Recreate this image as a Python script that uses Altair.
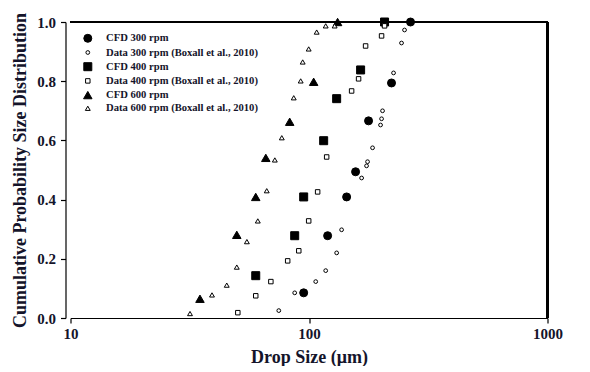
import altair as alt
import pandas as pd

# ---- data ----
series_order = [
    "CFD 300 rpm",
    "Data 300 rpm (Boxall et al., 2010)",
    "CFD 400 rpm",
    "Data 400 rpm (Boxall et al., 2010)",
    "CFD 600 rpm",
    "Data 600 rpm (Boxall et al., 2010)",
]

cfd300_x = [95.0, 119.7, 143.8, 156.8, 177.7, 221.8, 266.5]
cfd300_y = [0.085, 0.278, 0.409, 0.494, 0.666, 0.794, 1.0]

dat300_x = [74.7, 87.1, 106.7, 117.5, 130.6, 137.0, 166.2, 174.3, 176.0, 184.7,
            199.5, 201.5, 203.4, 226.2, 244.3, 251.5]
dat300_y = [0.025, 0.085, 0.123, 0.160, 0.220, 0.298, 0.473, 0.514, 0.528, 0.575,
            0.652, 0.673, 0.700, 0.828, 0.929, 0.973]

cfd400_x = [59.8, 87.1, 95.0, 115.2, 130.6, 164.6, 207.4]
cfd400_y = [0.143, 0.278, 0.409, 0.599, 0.741, 0.838, 1.0]

dat400_x = [50.3, 59.8, 69.2, 81.4, 90.6, 99.7, 108.7, 118.6, 150.9, 161.4,
            172.7, 201.5, 207.4]
dat400_y = [0.018, 0.075, 0.123, 0.193, 0.227, 0.328, 0.426, 0.544, 0.767, 0.808,
            0.919, 0.953, 0.987]

cfd600_x = [34.9, 49.8, 59.8, 65.9, 83.0, 104.6, 131.8]
cfd600_y = [0.065, 0.281, 0.409, 0.541, 0.663, 0.798, 1.0]

dat600_x = [31.7, 39.2, 45.2, 49.8, 54.9, 61.0, 66.5, 71.9, 76.9, 86.3,
            92.3, 94.1, 99.7, 107.7, 117.5, 128.1]
dat600_y = [0.015, 0.078, 0.111, 0.172, 0.258, 0.328, 0.430, 0.534, 0.609, 0.744,
            0.801, 0.865, 0.909, 0.966, 0.987, 0.987]

x_ticks = [10, 100, 1000]
y_ticks = [0.0, 0.2, 0.4, 0.6, 0.8, 1.0]

series_x = [cfd300_x, dat300_x, cfd400_x, dat400_x, cfd600_x, dat600_x]
series_y = [cfd300_y, dat300_y, cfd400_y, dat400_y, cfd600_y, dat600_y]

rows = []
for name, xs, ys in zip(series_order, series_x, series_y):
    for xv, yv in zip(xs, ys):
        rows.append({"series": name, "size": xv, "cdf": yv})
df = pd.DataFrame(rows)

FONT = "Liberation Serif"
TXT = "#14142a"
W, H = 477, 296

leg = dict(title=None, orient="none", legendX=12, legendY=11)

points = alt.Chart(df).mark_point(stroke="black", strokeWidth=1, fillOpacity=1, opacity=1).encode(
    x=alt.X("size:Q",
            scale=alt.Scale(type="log", domain=[10, 1000], nice=False),
            axis=alt.Axis(values=x_ticks, format="d", title="Drop Size (μm)", labelFlush=False,
                          grid=False, tickSize=5, labelPadding=3, titlePadding=7)),
    y=alt.Y("cdf:Q",
            scale=alt.Scale(domain=[0, 1], nice=False, zero=False),
            axis=alt.Axis(values=y_ticks, format=".1f", title="Cumulative Probability Size Distribution",
                          grid=False, tickSize=5, offset=5, labelPadding=5, titlePadding=7,
                          labelFlush=False)),
    shape=alt.Shape("series:N",
                    scale=alt.Scale(domain=series_order,
                                    range=["circle", "circle", "square", "square", "triangle-up", "triangle-up"]),
                    legend=alt.Legend(**leg,
                                      labelFont=FONT, labelFontSize=10.6, labelFontWeight="bold",
                                      labelColor=TXT, rowPadding=2.2, labelOffset=13,
                                      symbolStrokeColor="black", symbolStrokeWidth=1)),
    fill=alt.Fill("series:N",
                  scale=alt.Scale(domain=series_order,
                                  range=["black", "white", "black", "white", "black", "white"]),
                  legend=alt.Legend(**leg)),
    size=alt.Size("series:N",
                  scale=alt.Scale(type="ordinal", domain=series_order, range=[64, 14, 64, 20, 72, 24]),
                  legend=alt.Legend(**leg)),
)

top_rule = alt.Chart(df).mark_rule(color="black", strokeWidth=1.2).encode(
    x=alt.value(0), x2=alt.value(W), y=alt.value(0))
right_rule = alt.Chart(df).mark_rule(color="black", strokeWidth=1.2).encode(
    x=alt.value(W), y=alt.value(0), y2=alt.value(H))

chart = alt.layer(top_rule, right_rule, points).properties(
    width=W, height=H,
    autosize=alt.AutoSizeParams(type="none"),
    padding={"left": 62.5, "top": 14, "right": 22, "bottom": 48},
).configure_view(stroke=None).configure_axis(
    domainColor="black", domainWidth=1.2, tickColor="black", tickWidth=1.2,
    labelFont=FONT, labelFontSize=15, labelFontWeight="bold", labelColor=TXT,
    titleFont=FONT, titleFontSize=18, titleFontWeight="bold", titleColor=TXT,
)

chart.save("out.html", embed_options={"renderer": "svg", "actions": False})
